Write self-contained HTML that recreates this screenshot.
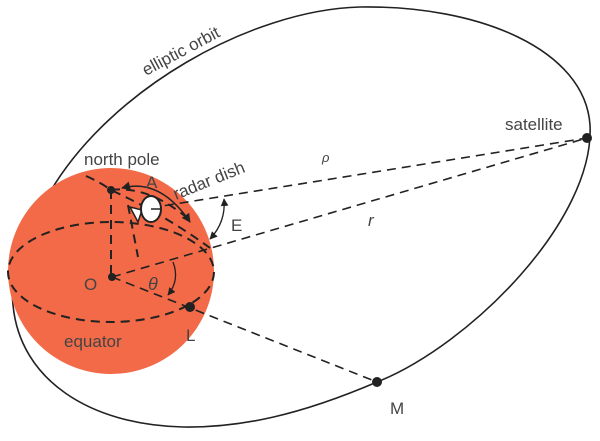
<!DOCTYPE html>
<html><head><meta charset="utf-8"><style>
html,body{margin:0;padding:0;background:#fff;overflow:hidden}
svg{display:block}
text{font-family:"Liberation Sans",sans-serif;fill:#444}
</style></head><body>
<svg width="600" height="441" viewBox="0 0 600 441">
<defs>
<marker id="ah" viewBox="0 0 10 10" refX="9" refY="5" markerWidth="6" markerHeight="6" orient="auto-start-reverse"><path d="M0,0 L10,5 L0,10 z" fill="#222"/></marker>
</defs>
<path d="M50,192 C110,90 250,10 360,7 C480,5 585,50 590,125 C595,220 470,345 377,382 C300,415 240,428 183,427 C90,425 20,380 13,305 C8,260 30,220 50,192 Z" fill="none" stroke="#222" stroke-width="1.6"/>
<circle cx="111" cy="271" r="103" fill="#f26a48"/>
<g fill="none" stroke="#222" stroke-width="2" stroke-dasharray="9,6">
<ellipse cx="111" cy="272" rx="103" ry="50"/>
<line x1="111" y1="190" x2="111" y2="277"/>
<path d="M86,176 Q100,182 111,190 Q165,215 210,248"/>
<path d="M111,190 Q150,185 192,222"/>
<line x1="128" y1="205" x2="138" y2="257"/>
</g>
<g fill="none" stroke="#222" stroke-width="1.6" stroke-dasharray="9,6">
<line x1="150" y1="208" x2="587" y2="138"/>
<line x1="112" y1="277" x2="587" y2="138"/>
<line x1="112" y1="277" x2="377" y2="382"/>
</g>
<path d="M122,188 Q160,178 190,222" fill="none" stroke="#222" stroke-width="1.5" marker-start="url(#ah)" marker-end="url(#ah)"/>
<path d="M224,199 Q226,222 210,239" fill="none" stroke="#222" stroke-width="1.3" marker-start="url(#ah)" marker-end="url(#ah)"/>
<path d="M173,262 Q180,280 168,295" fill="none" stroke="#222" stroke-width="1.3" marker-end="url(#ah)"/>
<g fill="#222">
<circle cx="111" cy="190" r="4"/><circle cx="112" cy="277" r="4"/>
<circle cx="190" cy="307" r="5"/><circle cx="587" cy="138" r="5"/><circle cx="377" cy="382" r="5"/>
</g>
<path d="M130,207 L142,210 L138,222 Z" fill="#fff" stroke="#222" stroke-width="1.5"/>
<ellipse cx="151" cy="209" rx="10" ry="13" fill="#fff" stroke="#222" stroke-width="2"/>
<line x1="151" y1="209" x2="160" y2="209" stroke="#222" stroke-width="1.5"/>
<text x="146" y="76" font-size="17" transform="rotate(-28 146 76)">elliptic orbit</text>
<text x="505" y="130" font-size="17">satellite</text>
<text x="84" y="165" font-size="17">north pole</text>
<text x="146" y="188" font-size="17">A</text>
<text x="176" y="200" font-size="17" transform="rotate(-22 176 200)">radar dish</text>
<text x="231" y="231" font-size="17">E</text>
<text x="322" y="162" font-size="13" font-style="italic">ρ</text>
<text x="368" y="226" font-size="17" font-style="italic">r</text>
<text x="84" y="290" font-size="17">O</text>
<text x="148" y="290" font-size="18" font-style="italic" fill="#333">θ</text>
<text x="186" y="341" font-size="17">L</text>
<text x="64" y="347" font-size="17" fill="#333">equator</text>
<text x="390" y="414" font-size="17">M</text>
</svg>
</body></html>
